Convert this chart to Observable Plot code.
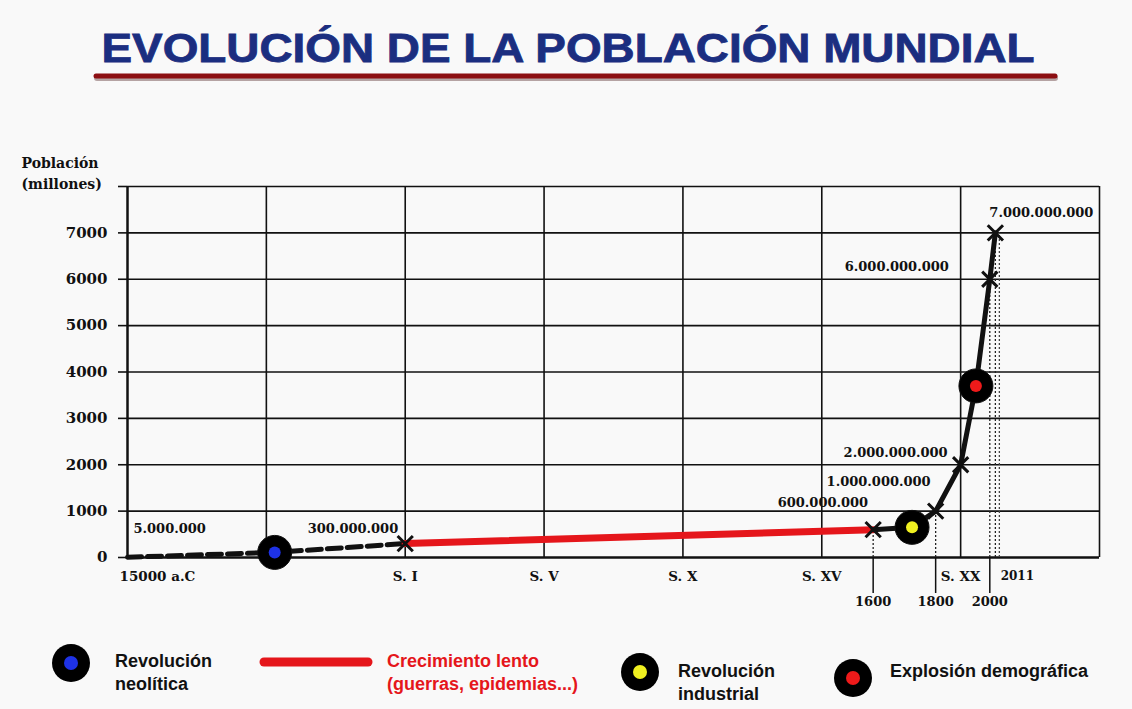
<!DOCTYPE html>
<html>
<head>
<meta charset="utf-8">
<script src="https://cdn.jsdelivr.net/npm/d3@7"></script>
<script src="https://cdn.jsdelivr.net/npm/@observablehq/plot@0.6"></script>
<style>
  body { margin: 0; background: #f9f9f9; }
  #page { position: relative; width: 1132px; height: 709px; overflow: hidden; background: #f9f9f9; }
  #chart { position: absolute; left: 0; top: 95px; }
  #title { position: absolute; left: 0; top: 0; }
  #legend { position: absolute; left: 0; top: 620px; }
</style>
</head>
<body>
<div id="page">
  <svg id="title" width="1132" height="95"></svg>
  <div id="chart"></div>
  <svg id="legend" width="1132" height="89"></svg>
</div>
<script>
// ---------- data ----------
const titleText = "EVOLUCIÓN DE LA POBLACIÓN MUNDIAL";
const yTitle = "Población\n(millones)";
const yTicks = [0, 1000, 2000, 3000, 4000, 5000, 6000, 7000, 8000];
const gridX = [0, 1, 2, 3, 4, 5, 6, 7];
const eraTickPos = [0, 2, 3, 4, 5, 6];
const eraTickLabels = ["15000 a.C", "S. I", "S. V", "S. X", "S. XV", "S. XX"];
const yearTickPos = [5.37, 5.82, 6.21];
const yearTickLabels = ["1600", "1800", "2000"];
const lastYearPos = 6.25;
const lastYearLabel = "2011";

// x = position on the era axis, population in millions
const neoX = [0, 1.06, 2];
const neoPop = [5, 110, 300];
const slowX = [2, 5.37];
const slowPop = [300, 600];
const fastX = [5.37, 5.65, 5.82, 6.0, 6.11, 6.21, 6.25];
const fastPop = [600, 650, 1000, 2000, 3700, 6000, 7000];
const markX = [2, 5.37, 5.82, 6.0, 6.21, 6.25];
const markPop = [300, 600, 1000, 2000, 6000, 7000];
const valueLabels = ["5.000.000", "300.000.000", "600.000.000", "1.000.000.000", "2.000.000.000", "6.000.000.000", "7.000.000.000"];
const valueLabelX = [0, 2, 5.37, 5.82, 6.0, 6.21, 6.25];
const valueLabelPop = [5, 300, 600, 1000, 2000, 6000, 7000];
const milestoneNames = ["Revolución neolítica", "Revolución industrial", "Explosión demográfica"];
const milestoneX = [1.06, 5.65, 6.11];
const milestonePop = [110, 650, 3700];
const dottedX = [5.37, 5.82, 6.21, 6.25];
const dottedPop = [600, 1000, 6000, 7000];
const legendNames = ["Revolución neolítica", "Crecimiento lento", "Revolución industrial", "Explosión demográfica"];
const legendLines = [["Revolución", "neolítica"], ["Crecimiento lento", "(guerras, epidemias...)"], ["Revolución", "industrial"], ["Explosión demográfica"]];

// ---------- styles ----------
const dotColor = {"Revolución neolítica": "#1e32e6", "Revolución industrial": "#f0f020", "Explosión demográfica": "#ee1a1a"};
const RED = "#e5161b";
const INK = "#111";
const labelStyle = {
  "5.000.000": {anchor: "start", dx: 6, dy: -28},
  "300.000.000": {anchor: "end", dx: -7, dy: -15},
  "600.000.000": {anchor: "end", dx: -5, dy: -27},
  "1.000.000.000": {anchor: "end", dx: -5, dy: -29},
  "2.000.000.000": {anchor: "end", dx: -13, dy: -12},
  "6.000.000.000": {anchor: "end", dx: -41, dy: -12},
  "7.000.000.000": {anchor: "start", dx: -6, dy: -20}
};

// ---------- tables ----------
const zip = (xs, ys) => xs.map((x, i) => ({x, y: ys[i]}));
const neo = zip(neoX, neoPop);
const slow = zip(slowX, slowPop);
const fast = zip(fastX, fastPop);
const marks = zip(markX, markPop);
const milestones = milestoneNames.map((name, i) => ({name, x: milestoneX[i], y: milestonePop[i]}));
const dotted = zip(dottedX, dottedPop);
const eras = eraTickPos.map((x, i) => ({x, label: eraTickLabels[i]}));
const labels = valueLabels.map((t, i) => ({t, x: valueLabelX[i], y: valueLabelPop[i]}));

// ---------- title ----------
const tsvg = d3.select("#title");
tsvg.append("line").attr("x1", 97).attr("x2", 1055).attr("y1", 78).attr("y2", 78)
  .attr("stroke", "#3a0506").attr("stroke-width", 6).attr("stroke-linecap", "round").attr("opacity", 0.35);
tsvg.append("line").attr("x1", 96).attr("x2", 1055).attr("y1", 76).attr("y2", 76)
  .attr("stroke", "#8c0f12").attr("stroke-width", 5).attr("stroke-linecap", "round");
tsvg.append("text").attr("x", 568).attr("y", 62).attr("text-anchor", "middle")
  .attr("font-family", "Liberation Sans, Arial, sans-serif").attr("font-weight", "bold")
  .attr("font-size", 40).attr("fill", "#1b2e80")
  .attr("stroke", "#1b2e80").attr("stroke-width", 0.8)
  .attr("textLength", 933).attr("lengthAdjust", "spacingAndGlyphs")
  .text(titleText);

// ---------- chart ----------
const serif = "DejaVu Serif, serif";
const chart = Plot.plot({
  width: 1132,
  height: 525,
  marginLeft: 127,
  marginRight: 33,
  marginTop: 91,
  marginBottom: 63,
  x: {type: "linear", domain: [0, 7]},
  y: {type: "linear", domain: [0, 8000]},
  style: {fontFamily: serif, fontWeight: "bold", background: "transparent", color: INK, overflow: "visible"},
  marks: [
    Plot.ruleY(yTicks.filter(d => d > 0), {y: d => d, x1: 0, x2: 7, stroke: INK, strokeWidth: 1.6}),
    Plot.ruleX(gridX.slice(1), {x: d => d, y1: 0, y2: 8000, stroke: INK, strokeWidth: 1.6}),
    Plot.ruleX([0], {x: d => d, y1: 0, y2: 8000, stroke: INK, strokeWidth: 2.5}),
    Plot.ruleY([0], {y: d => d, x1: 0, x2: 7, stroke: INK, strokeWidth: 2.5}),
    Plot.axisY(yTicks, {label: null, tickSize: 9, tickPadding: 11, fontSize: 15, strokeWidth: 1.6,
      tickFormat: d => d === 8000 ? "" : String(d)}),
    Plot.axisX(yearTickPos, {label: null, tickSize: 36, tickPadding: 3, fontSize: 13, strokeWidth: 1.5,
      tickFormat: d => yearTickLabels[yearTickPos.indexOf(d)]}),
    Plot.text(eras.slice(0, 1), {x: "x", y: 0, text: "label", dy: 19, dx: -8, textAnchor: "start", fontSize: 13.5}),
    Plot.text(eras.slice(1), {x: "x", y: 0, text: "label", dy: 19, textAnchor: "middle", fontSize: 13.5}),
    Plot.text([lastYearLabel], {x: lastYearPos, y: 0, text: d => d, dy: 19, dx: 22, textAnchor: "middle", fontSize: 12}),
    Plot.text([yTitle], {frameAnchor: "top-left", text: d => d, dx: -106, dy: -33, textAnchor: "start",
      lineAnchor: "top", fontSize: 14, lineHeight: 1.5}),
    Plot.ruleX(dotted, {x: "x", y1: 0, y2: "y", stroke: "#222", strokeWidth: 1.3, strokeDasharray: "2,2"}),
    Plot.ruleX(dotted.slice(3), {x: "x", y1: 0, y2: "y", dx: 4, stroke: "#444", strokeWidth: 1.3, strokeDasharray: "2,2"}),
    Plot.line(neo, {x: "x", y: "y", stroke: INK, strokeWidth: 5, strokeDasharray: "14,6"}),
    Plot.line(slow, {x: "x", y: "y", stroke: RED, strokeWidth: 7}),
    Plot.line(fast, {x: "x", y: "y", stroke: INK, strokeWidth: 5, strokeLinejoin: "round"}),
    Plot.dot(marks, {x: "x", y: "y", symbol: "times", r: 7, stroke: INK, strokeWidth: 3}),
    Plot.dot(milestones, {x: "x", y: "y", r: 17, fill: "#000", stroke: "#111", strokeWidth: 1}),
    Plot.dot(milestones, {x: "x", y: "y", r: 6, fill: d => dotColor[d.name]}),
    ...labels.map(l => Plot.text([l], {x: "x", y: "y", text: "t", fontSize: 13,
      textAnchor: labelStyle[l.t].anchor, dx: labelStyle[l.t].dx, dy: labelStyle[l.t].dy}))
  ]
});
document.getElementById("chart").appendChild(chart);

// ---------- legend ----------
const lsvg = d3.select("#legend");
const sans = "Liberation Sans, Arial, sans-serif";
function circleSymbol(cx, cy, name) {
  lsvg.append("circle").attr("cx", cx).attr("cy", cy).attr("r", 19).attr("fill", "#000");
  lsvg.append("circle").attr("cx", cx).attr("cy", cy).attr("r", 7).attr("fill", dotColor[name]);
}
function label(x, y, lines, color) {
  const t = lsvg.append("text").attr("x", x).attr("y", y).attr("font-family", sans)
    .attr("font-weight", "bold").attr("font-size", 18).attr("fill", color);
  lines.forEach((s, i) => t.append("tspan").attr("x", x).attr("dy", i === 0 ? 0 : 23).text(s));
}
// legend rows (page y - 620)
circleSymbol(71, 43, legendNames[0]);
label(115, 47, legendLines[0], "#111");
lsvg.append("line").attr("x1", 264).attr("x2", 368).attr("y1", 42).attr("y2", 42)
  .attr("stroke", RED).attr("stroke-width", 9).attr("stroke-linecap", "round");
label(387, 47, legendLines[1], RED);
circleSymbol(640, 52, legendNames[2]);
label(678, 57, legendLines[2], "#111");
circleSymbol(853, 58, legendNames[3]);
label(890, 57, legendLines[3], "#111");
</script>
</body>
</html>
